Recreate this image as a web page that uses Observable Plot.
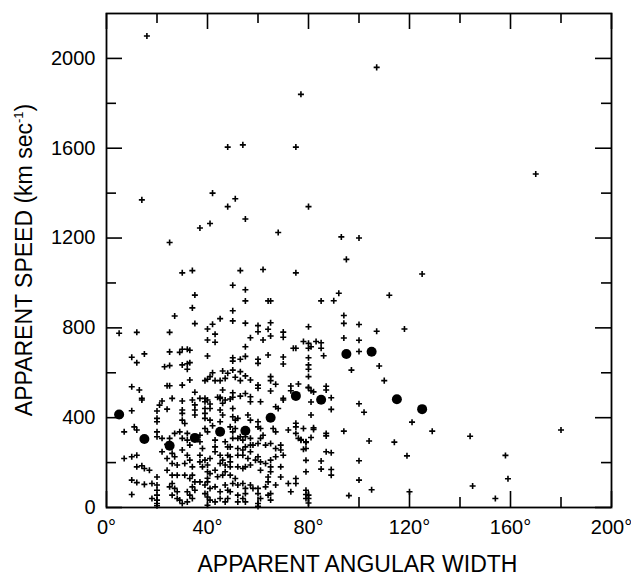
<!DOCTYPE html>
<html><head><meta charset="utf-8">
<script src="https://cdn.jsdelivr.net/npm/d3@7"></script>
<script src="https://cdn.jsdelivr.net/npm/@observablehq/plot@0.6"></script>
<style>body{margin:0;background:#fff}</style>
</head><body><div id="chart"></div>
<script>
// Individual events: [apparent angular width (deg), apparent speed (km/s)]
const events = [
[16,2100],[107,1960],[77,1840],[48,1605],[54,1615],[75,1605],[170,1485],[14,1370],[42,1400],[51,1375],[48,1340],[80,1340],[55,1285],[37,1245],[41,1265],[68,1225],[25,1180],[93,1205],[100,1200],[95,1105],[30,1045],[34,1055],[53,1055],[62,1060],[75,1045],[125,1040],[50,990],[55,970],
[112,945],[94,855],[94,820],[100,815],[107,785],[118,795],[94,755],[100,745],[100,695],[108,630],[97,612],[110,565],[100,462],[102,424],[121,380],[94,340],[129,340],[144,317],[180,345],[104,296],[114,291],[119,230],[158,232],[100,208],[100,122],[159,128],[105,79],[145,96],[96,53],[154,40],[120,70],
[81,520],[82,515],[87,540],[87,523],[80,535],[89,489],[89,437],[81,470],[81,412],[78,352],[82,355],[82,348],[87,330],[87,319],[81,312],[77,303],[79,290],[78,259],[87,248],[89,244],[79,210],[85,207],[79,159],[85,171],[89,169],[89,144],[79,77],[79,58],
[55,920],[64,920],[65,920],[85,920],[90,921],[92,954],[50,876],[50,831],[55,821],[60,810],[60,783],[65,823],[64,794],[65,764],[62,746],[57,756],[70,781],[70,758],[80,805],[78,739],[80,731],[83,739],[85,734],[80,709],[81,716],[85,709],[86,676],[74,709],[75,709],[55,716],[50,667],[50,652],[53,660],[55,673],[60,660],[60,642],[64,679],[70,670],[70,639],[80,667],[50,612],[51,580],[53,565],[57,568],[65,583],[65,565],[67,549],[60,545],[60,531],[65,519],[73,541],[73,520],[76,550],[80,583],[80,533],[50,511],[50,491],[53,496],[55,508],[57,493],[70,486],
[35,946],[34,889],[27,853],[35,819],[45,841],[42,816],[40,795],[5,776],[12,780],[25,780],[43,772],[40,746],[43,736],[15,684],[10,669],[12,645],[25,693],[29,691],[30,705],[32,705],[33,700],[40,675],[23,627],[25,632],[30,635],[32,640],[33,645],[32,616],[42,600],[46,608],[48,598],[10,538],[13,523],[24,542],[25,542],[30,545],[33,568],[39,565],[40,571],[41,583],[43,565],[45,565],[47,575],[35,513],[46,523],[44,491],[45,491],[14,486],[26,486],[37,486],[39,486],
[80,635],[80,616],[53,605],[55,586],
[14,479],[21,456],[22,474],[30,474],[34,479],[35,457],[39,471],[40,479],[41,461],[45,486],[46,464],[47,479],[49,483],[10,431],[20,430],[20,397],[20,382],[24,438],[30,434],[30,419],[30,389],[31,374],[35,434],[35,412],[39,441],[39,419],[39,397],[41,441],[41,389],[42,364],[45,434],[46,412],[45,382],[7,337],[11,359],[12,345],[20,337],[20,315],[22,308],[24,281],[25,308],[27,330],[29,337],[30,308],[32,330],[32,300],[33,278],[37,322],[37,293],[38,263],[39,352],[40,337],[43,300],[43,270],[47,293],[48,270],[7,218],[10,226],[12,233],[12,181],[14,186],[15,174],[10,122],[12,111],[15,103],[17,166],[18,107],[10,58],[20,136],[20,100],[20,77],[20,55],[20,33],[20,18],[18,40],[22,248],[24,218],[26,241],[27,226],[26,196],[28,189],[24,166],[26,144],[28,144],[26,107],[25,92],[27,85],[28,70],[26,55],[28,40],[29,33],[30,18],[30,256],[32,233],[33,211],[31,196],[34,181],[31,144],[33,129],[34,144],[35,114],[34,92],[35,77],[32,70],[33,55],[34,40],[32,25],[37,233],[37,203],[39,211],[38,181],[40,189],[41,218],[40,159],[41,151],[43,166],[44,137],[46,144],[47,159],[37,114],[39,100],[40,114],[41,85],[43,92],[45,70],[47,100],[48,77],[39,62],[40,47],[41,33],[43,25],[45,40],[47,25],[48,40],[43,248],[45,233],[46,211],[48,233],[49,203],[45,196],[47,189],
[57,471],[61,471],[50,441],[67,449],[68,441],[70,479],[50,404],[51,389],[49,359],[51,352],[50,337],[52,397],[56,412],[57,389],[60,382],[60,359],[61,352],[62,322],[61,308],[66,352],[67,337],[72,345],[75,375],[75,359],[75,330],[76,308],[77,300],[79,293],[79,263],[50,308],[52,308],[53,315],[54,300],[55,315],[57,308],[58,278],[49,270],[52,263],[54,256],[55,270],[57,278],[57,248],[60,285],[63,278],[65,285],[67,263],[69,278],[69,256],[70,233],[67,226],[49,226],[52,233],[54,233],[56,218],[59,211],[60,226],[61,203],[63,196],[65,211],[49,181],[52,181],[54,174],[55,181],[57,189],[61,166],[65,159],[65,181],[69,181],[69,136],[49,144],[51,129],[50,107],[52,100],[54,107],[55,85],[57,100],[58,85],[60,85],[60,62],[61,40],[64,136],[64,114],[63,92],[67,100],[65,62],[72,107],[73,70],[75,129],[75,107],[49,70],[52,55],[54,40],[55,62],[52,25],[55,25],[60,18],[64,55],[65,33],[80,55],[79,40],
[40,10],[40,130],[60,5],[80,20],[80,40],[20,8]
];
// Binned averages (large dots)
const meanWidth = [5,15,25,35,45,55,65,75,85,95,105,115,125];
const meanSpeed = [414,305,275,310,337,342,400,497,480,684,694,482,438];
// Axis ticks
const xMajor = [0,40,80,120,160,200];
const xMinor = [20,60,100,140,180];
const yMajor = [0,400,800,1200,1600,2000];
const yMinor = [200,600,1000,1400,1800];
const xTitle = "APPARENT ANGULAR WIDTH";
const yTitle = "APPARENT SPEED (km sec";
const ySup = "-1";

const W = 631, H = 576, mL = 106, mR = 20, mT = 13, mB = 69;
const pw = W - mL - mR, ph = H - mT - mB;
const font = "'Liberation Sans', Arial, Helvetica, sans-serif";
const means = meanWidth.map((w, i) => ({w, s: meanSpeed[i]}));
const tick = {stroke: "#000", strokeWidth: 1.6};

const chart = Plot.plot({
  width: W, height: H,
  marginLeft: mL, marginRight: mR, marginTop: mT, marginBottom: mB,
  style: {fontFamily: font, background: "#fff", color: "#000"},
  x: {domain: [0, 200]},
  y: {domain: [0, 2200]},
  marks: [
    Plot.axisX(xMajor, {tickSize: 0, tickPadding: 12, tickFormat: d => d + "°", fontSize: 20, label: null}),
    Plot.axisY(yMajor, {tickSize: 0, tickPadding: 11, tickFormat: d => String(d), fontSize: 20, label: null}),
    Plot.tickX(xMajor, {x: d => d, insetTop: ph - 16, ...tick}),
    Plot.tickX(xMinor, {x: d => d, insetTop: ph - 10, ...tick}),
    Plot.tickX(xMajor, {x: d => d, insetBottom: ph - 16, ...tick}),
    Plot.tickX(xMinor, {x: d => d, insetBottom: ph - 10, ...tick}),
    Plot.tickY(yMajor, {y: d => d, insetRight: pw - 16, ...tick}),
    Plot.tickY(yMinor, {y: d => d, insetRight: pw - 10, ...tick}),
    Plot.tickY(yMajor, {y: d => d, insetLeft: pw - 16, ...tick}),
    Plot.tickY(yMinor, {y: d => d, insetLeft: pw - 10, ...tick}),
    Plot.frame({stroke: "#000", strokeWidth: 1.8}),
    Plot.dot(events, {x: d => d[0], y: d => d[1], symbol: "plus", r: 2.1, stroke: "#000", strokeWidth: 1.6}),
    Plot.dot(means, {x: "w", y: "s", r: 5, fill: "#000", stroke: "none"})
  ]
});

const svg = d3.select(chart);
svg.append("text")
  .attr("x", mL + pw / 2 - 1).attr("y", 572)
  .attr("text-anchor", "middle").attr("font-size", 23).attr("fill", "#000")
  .attr("font-family", font)
  .text(xTitle);
const yt = svg.append("text")
  .attr("transform", `translate(31.5, ${mT + ph / 2}) rotate(-90)`)
  .attr("text-anchor", "middle").attr("font-size", 23).attr("fill", "#000")
  .attr("font-family", font);
yt.append("tspan").text(yTitle);
yt.append("tspan").attr("font-size", 13).attr("dy", -9).text(ySup);
yt.append("tspan").attr("dy", 9).text(")");

document.getElementById("chart").append(chart);
</script>
</body></html>
